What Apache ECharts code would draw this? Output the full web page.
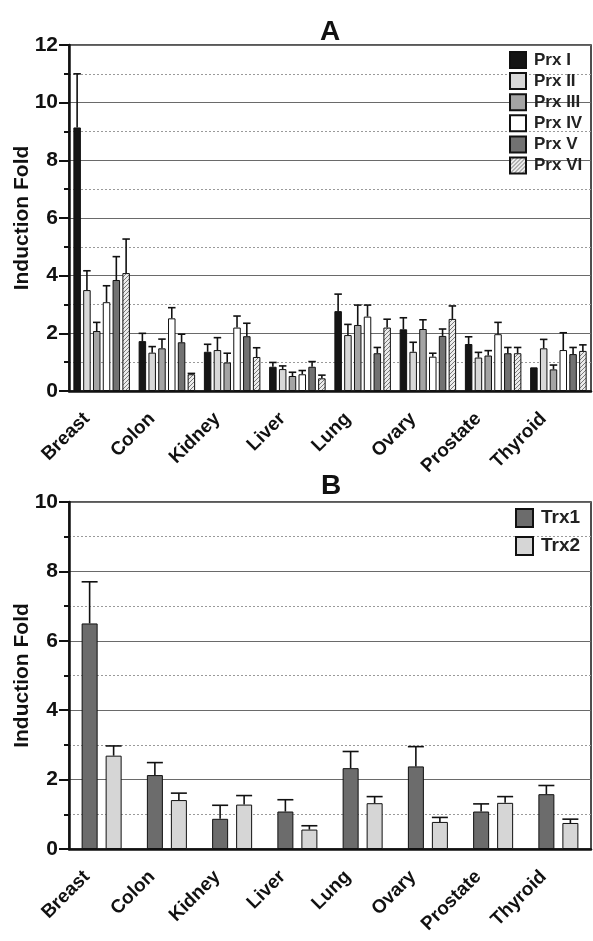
<!DOCTYPE html>
<html>
<head>
<meta charset="utf-8">
<script src="https://cdn.jsdelivr.net/npm/echarts@6/dist/echarts.min.js"></script>
<style>
  html, body { margin: 0; padding: 0; background: #fff; }
  #chart { width: 593px; height: 941px; }
</style>
</head>
<body>
<div id="chart"></div>
<script>
const tissues = ['Breast', 'Colon', 'Kidney', 'Liver', 'Lung', 'Ovary', 'Prostate', 'Thyroid']

// panel A: peroxiredoxins
const prxNames = ['Prx I', 'Prx II', 'Prx III', 'Prx IV', 'Prx V', 'Prx VI']
const prx1 = [9.14, 1.73, 1.36, 0.84, 2.77, 2.14, 1.63, 0.82]
const prx2 = [3.50, 1.33, 1.42, 0.76, 1.94, 1.36, 1.16, 1.48]
const prx3 = [2.08, 1.48, 0.99, 0.52, 2.29, 2.15, 1.23, 0.75]
const prx4 = [3.08, 2.52, 2.20, 0.58, 2.58, 1.19, 1.97, 1.42]
const prx5 = [3.85, 1.69, 1.90, 0.84, 1.31, 1.91, 1.31, 1.28]
const prx6 = [4.09, 0.58, 1.18, 0.44, 2.20, 2.50, 1.31, 1.39]
const prx1Err = [1.86, 0.27, 0.26, 0.15, 0.59, 0.40, 0.25, 0]
const prx2Err = [0.67, 0.21, 0.43, 0.11, 0.37, 0.33, 0.18, 0.31]
const prx3Err = [0.30, 0.32, 0.32, 0.13, 0.69, 0.32, 0.17, 0.15]
const prx4Err = [0.57, 0.37, 0.40, 0.13, 0.40, 0.12, 0.41, 0.60]
const prx5Err = [0.81, 0.28, 0.45, 0.18, 0.20, 0.24, 0.20, 0.23]
const prx6Err = [1.18, 0.03, 0.32, 0.11, 0.29, 0.45, 0.20, 0.21]

// panel B: thioredoxins
const trxNames = ['Trx1', 'Trx2']
const trx1 = [6.50, 2.13, 0.87, 1.08, 2.33, 2.38, 1.08, 1.58]
const trx2 = [2.69, 1.41, 1.28, 0.56, 1.32, 0.78, 1.33, 0.75]
const trx1Err = [1.20, 0.36, 0.39, 0.34, 0.48, 0.57, 0.22, 0.25]
const trx2Err = [0.28, 0.20, 0.26, 0.11, 0.19, 0.13, 0.18, 0.11]

const FONT = 'Liberation Sans, Arial, sans-serif'
const trxColors = ['#6c6c6c', '#d6d6d6']

// "/" hatch tile for Prx VI
function hatchTile() {
  const c = document.createElement('canvas')
  c.width = 4
  c.height = 4
  const ctx = c.getContext('2d')
  ctx.fillStyle = '#ececec'
  ctx.fillRect(0, 0, 4, 4)
  ctx.strokeStyle = '#7a7a7a'
  ctx.lineWidth = 1
  ctx.beginPath()
  ctx.moveTo(0, 4); ctx.lineTo(4, 0)
  ctx.moveTo(-1, 1); ctx.lineTo(1, -1)
  ctx.moveTo(3, 5); ctx.lineTo(5, 3)
  ctx.stroke()
  return c
}
const prxColors = ['#151515', '#d8d8d8', '#a4a4a4', '#ffffff', '#727272', { image: hatchTile(), repeat: 'repeat' }]

const chart = echarts.init(document.getElementById('chart'))

// bar layout in px, shared by bars and error bars
const A_BAR = 7.5, A_GAP = 2.3
const B_BAR = 16, B_GAP = 8

function errorSeries(means, errs, idx, n, barW, gapPx, axisIdx) {
  return {
    type: 'custom',
    xAxisIndex: axisIdx,
    yAxisIndex: axisIdx,
    z: 5,
    silent: true,
    data: means.map((m, i) => [i, m, errs[i]]),
    renderItem(params, api) {
      const err = api.value(2)
      if (!err) return null
      const cat = api.value(0)
      const mean = api.value(1)
      const base = api.coord([cat, mean])
      const top = api.coord([cat, mean + err])
      const off = (idx - (n - 1) / 2) * (barW + gapPx)
      const x = base[0] + off
      const cap = barW / 2
      return {
        type: 'group',
        children: [
          { type: 'line', shape: { x1: x, y1: base[1], x2: x, y2: top[1] }, style: { stroke: '#111', lineWidth: 1.6 } },
          { type: 'line', shape: { x1: x - cap, y1: top[1], x2: x + cap, y2: top[1] }, style: { stroke: '#111', lineWidth: 1.6 } }
        ]
      }
    }
  }
}

function xAxisCfg(gridIndex) {
  return {
    type: 'category',
    gridIndex,
    data: tissues,
    axisLine: { lineStyle: { color: '#111', width: 2.5 } },
    axisTick: { alignWithLabel: true, length: 5, lineStyle: { color: '#111', width: 2 } },
    axisLabel: {
      rotate: 45, interval: 0, margin: 10, padding: [0, 21, 0, 0],
      color: '#111', fontFamily: FONT, fontWeight: 'bold', fontSize: 19
    }
  }
}

function yAxisCfg(gridIndex, max) {
  return {
    type: 'value',
    gridIndex,
    min: 0, max, interval: 2,
    name: 'Induction Fold',
    nameLocation: 'middle',
    nameGap: 36,
    nameMoveOverlap: false,
    nameTextStyle: { color: '#111', fontFamily: FONT, fontWeight: 'bold', fontSize: 21 },
    axisLine: { show: true, lineStyle: { color: '#111', width: 2.5 } },
    axisTick: { show: true, length: 10, lineStyle: { color: '#111', width: 2 } },
    axisLabel: { color: '#111', fontFamily: FONT, fontWeight: 'bold', fontSize: 21, margin: 11 },
    splitLine: { show: true, lineStyle: { color: '#6a6a6a', width: 1 } },
    minorTick: { show: true, splitNumber: 2, length: 5, lineStyle: { color: '#111', width: 2 } },
    minorSplitLine: { show: true, lineStyle: { color: '#9a9a9a', width: 1, type: [2, 2] } }
  }
}

const prxData = [prx1, prx2, prx3, prx4, prx5, prx6]
const prxErrs = [prx1Err, prx2Err, prx3Err, prx4Err, prx5Err, prx6Err]
const trxData = [trx1, trx2]
const trxErrs = [trx1Err, trx2Err]

const series = []
prxData.forEach((d, i) => {
  series.push({
    name: prxNames[i], type: 'bar', xAxisIndex: 0, yAxisIndex: 0,
    data: d, barWidth: A_BAR, barGap: (A_GAP / A_BAR * 100) + '%',
    itemStyle: { color: prxColors[i], borderColor: '#111', borderWidth: 1 }
  })
})
prxData.forEach((d, i) => series.push(errorSeries(d, prxErrs[i], i, 6, A_BAR, A_GAP, 0)))
trxData.forEach((d, i) => {
  series.push({
    name: trxNames[i], type: 'bar', xAxisIndex: 1, yAxisIndex: 1,
    data: d, barWidth: B_BAR, barGap: (B_GAP / B_BAR * 100) + '%',
    itemStyle: { color: trxColors[i], borderColor: '#111', borderWidth: 1 }
  })
})
trxData.forEach((d, i) => series.push(errorSeries(d, trxErrs[i], i, 2, B_BAR, B_GAP, 1)))

chart.setOption({
  backgroundColor: '#fff',
  animation: false,
  title: [
    { text: 'A', left: 320, top: 18, padding: 0, textStyle: { fontFamily: FONT, fontWeight: 'bold', fontSize: 28, color: '#111' } },
    { text: 'B', left: 321, top: 472, padding: 0, textStyle: { fontFamily: FONT, fontWeight: 'bold', fontSize: 28, color: '#111' } }
  ],
  legend: [
    {
      data: prxNames, orient: 'vertical', left: 509, top: 51, padding: 0,
      icon: 'rect', itemWidth: 16, itemHeight: 16, itemGap: 3.1,
      textStyle: { fontFamily: FONT, fontWeight: 'bold', fontSize: 17, color: '#222', padding: [0, 0, 0, 3] }
    },
    {
      data: trxNames, orient: 'vertical', left: 515, top: 508, padding: 0,
      icon: 'rect', itemWidth: 17, itemHeight: 18, itemGap: 8,
      textStyle: { fontFamily: FONT, fontWeight: 'bold', fontSize: 19, color: '#222', padding: [0, 0, 0, 3] }
    }
  ],
  grid: [
    { left: 69, top: 45, width: 522, height: 346, outerBoundsMode: 'none', show: true, borderColor: '#222', borderWidth: 1.6, backgroundColor: 'transparent' },
    { left: 69, top: 502, width: 522, height: 347, outerBoundsMode: 'none', show: true, borderColor: '#222', borderWidth: 1.6, backgroundColor: 'transparent' }
  ],
  xAxis: [xAxisCfg(0), xAxisCfg(1)],
  yAxis: [yAxisCfg(0, 12), yAxisCfg(1, 10)],
  series
})
</script>
</body>
</html>
